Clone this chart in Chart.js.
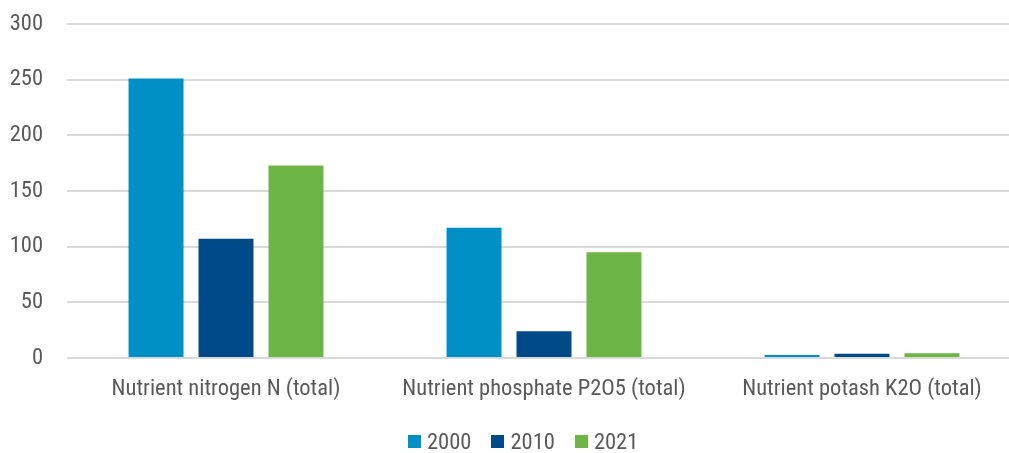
<!DOCTYPE html>
<html>
<head>
<meta charset="utf-8">
<script src="https://cdn.jsdelivr.net/npm/chart.js@4.4.1/dist/chart.umd.min.js"></script>
<style>
    html, body { margin: 0; padding: 0; background: #fff; overflow: hidden; }
    #wrap { position: relative; width: 1021px; height: 453px; }
    #legend {
        position: absolute; left: 408px; top: 428px;
        display: flex; align-items: center;
        font-family: "Roboto Condensed", "Liberation Sans Narrow", "DejaVu Sans Condensed", sans-serif;
        font-size: 22.5px; color: #595959;
    }
    #legend .item { display: inline-flex; align-items: center; margin-right: 20px; }
    #legend .sw { display: inline-block; width: 13px; height: 13px; margin-right: 6px; }
</style>
</head>
<body>
<div id="wrap">
    <canvas id="chart" width="1021" height="453"></canvas>
    <div id="legend"></div>
</div>
<script>
    // ── Data ────────────────────────────────────────────────────
    const categories = [
        'Nutrient nitrogen N (total)',
        'Nutrient phosphate P2O5 (total)',
        'Nutrient potash K2O (total)',
    ];
    const years = ['2000', '2010', '2021'];
    const values2000 = [251, 117, 2.7];
    const values2010 = [107, 24, 3.9];
    const values2021 = [173, 95, 4.3];
    const yTicks = [0, 50, 100, 150, 200, 250, 300];

    const colors = ['#0090c6', '#004a87', '#6db544'];
    const FONT = '"Roboto Condensed", "Liberation Sans Narrow", "DejaVu Sans Condensed", sans-serif';
    const TEXT = '#595959';

    const datasets = [values2000, values2010, values2021].map((vals, i) => ({
        label: years[i],
        data: vals,
        backgroundColor: colors[i],
        borderWidth: 0,
        categoryPercentage: 0.66,
        barPercentage: 0.786,
    }));

    new Chart(document.getElementById('chart'), {
        type: 'bar',
        data: { labels: categories, datasets },
        options: {
            responsive: false,
            animation: false,
            layout: { padding: { top: 24, left: 0, right: 0, bottom: 0 } },
            plugins: {
                legend: { display: false },
                tooltip: { enabled: false },
            },
            scales: {
                x: {
                    offset: true,
                    grid: { display: false, drawTicks: false },
                    border: { display: false },
                    ticks: {
                        color: TEXT, padding: 18,
                        font: { family: FONT, size: 22.5 },
                        maxRotation: 0, autoSkip: false,
                    },
                    afterFit: s => { s.height = 95; s.paddingLeft = 0; s.paddingRight = 0; },
                },
                y: {
                    min: 0, max: 300,
                    afterBuildTicks: s => { s.ticks = yTicks.map(v => ({ value: v })); },
                    grid: { color: '#d9d9d9', lineWidth: 2, drawTicks: false },
                    border: { display: false },
                    ticks: {
                        color: TEXT, padding: 24,
                        font: { family: FONT, size: 22.5 },
                    },
                    afterFit: s => { s.width = 67; s.paddingTop = 0; s.paddingBottom = 0; },
                },
            },
        },
    });

    // HTML legend under the plot
    const host = document.getElementById('legend');
    host.innerHTML = years.map((y, i) =>
        `<span class="item"><span class="sw" style="background:${colors[i]}"></span>${y}</span>`
    ).join('');
</script>
</body>
</html>
